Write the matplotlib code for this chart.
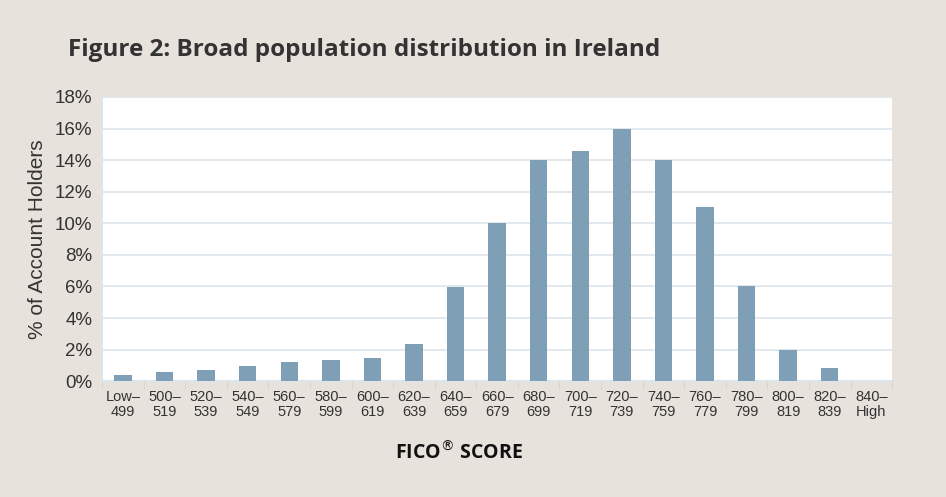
import matplotlib.pyplot as plt
import numpy as np

categories = ['Low–\n499', '500–\n519', '520–\n539', '540–\n549', '560–\n579', '580–\n599',
              '600–\n619', '620–\n639', '640–\n659', '660–\n679', '680–\n699', '700–\n719',
              '720–\n739', '740–\n759', '760–\n779', '780–\n799', '800–\n819', '820–\n839',
              '840–\nHigh']
values = [0.4, 0.6, 0.7, 0.95, 1.2, 1.35, 1.5, 2.35, 5.95, 10.0, 14.0, 14.6,
          16.0, 14.0, 11.0, 6.0, 2.0, 0.85, 0.0]
yticks = [0, 2, 4, 6, 8, 10, 12, 14, 16, 18]

bg = '#e8e2dc'
bar_color = '#7f9fb6'
grid_color = '#dce5ec'
narrow = ['Liberation Sans', 'DejaVu Sans']

fig = plt.figure(figsize=(9.46, 4.97), dpi=100, facecolor=bg)
ax = fig.add_axes([0.108, 0.233, 0.835, 0.572])
ax.set_facecolor('white')

x = np.arange(len(categories))
ax.bar(x, values, width=0.42, color=bar_color, zorder=3)

ax.set_xlim(-0.5, len(categories) - 0.5)
ax.set_ylim(0, 18)
ax.set_yticks(yticks)
ax.set_yticklabels([f'{v}%' for v in yticks], family=narrow, fontsize=13.5, color='#333333')
ax.yaxis.grid(True, color=grid_color, linewidth=1.2, zorder=0)
ax.tick_params(axis='y', length=0, pad=7)

ax.set_xticks(x)
ax.set_xticklabels(categories, family=narrow, fontsize=10.5, color='#333333', linespacing=1.15)
ax.set_xticks(np.arange(-0.5, len(categories), 1), minor=True)
ax.tick_params(axis='x', which='major', length=0, pad=6)
ax.tick_params(axis='x', which='minor', length=6, color='#d0d8c8', direction='out')

for s in ['top', 'right']:
    ax.spines[s].set_visible(False)
ax.spines['left'].set_color(grid_color)
ax.spines['bottom'].set_color(grid_color)
ax.spines['left'].set_linewidth(1.5)
ax.spines['bottom'].set_linewidth(1.5)

ax.set_ylabel('% of Account Holders', family=narrow, fontsize=15, color='#333333', labelpad=6)

fig.text(0.072, 0.9, 'Figure 2: Broad population distribution in Ireland', fontsize=17.5,
         fontweight='bold', family=['Open Sans', 'DejaVu Sans'], color='#333333', va='center')
fig.text(0.485, 0.088, 'FICO$^{®}$ SCORE', fontsize=14, fontweight='bold',
         family=['Open Sans', 'DejaVu Sans'], color='#111111', ha='center', va='center')

fig.savefig('out.png', dpi=100, facecolor=bg)
